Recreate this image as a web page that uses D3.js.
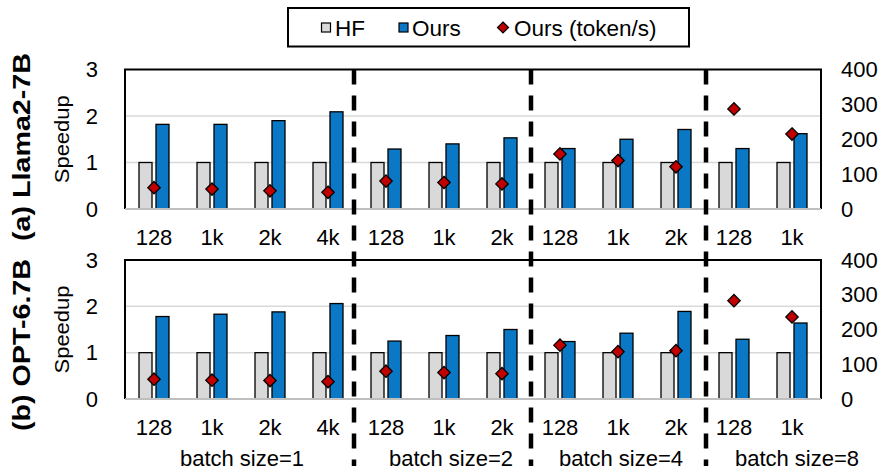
<!DOCTYPE html>
<html>
<head>
<meta charset="utf-8">
<script src="https://cdn.jsdelivr.net/npm/d3@7"></script>
<style>
  html, body { margin: 0; padding: 0; background: #fff; }
  svg { display: block; font-family: Arial, "Liberation Sans", sans-serif; }
</style>
</head>
<body>
<svg id="chart" width="883" height="472"></svg>
<script>
// ---------------- data ----------------
const categories = ['128','1k','2k','4k','128','1k','2k','128','1k','2k','128','1k'];
const batchLabels = ['batch size=1','batch size=2','batch size=4','batch size=8'];
const batchCounts = [4, 3, 3, 2];
const seriesNames = ['HF', 'Ours', 'Ours (token/s)'];
const hfSpeedup = [1,1,1,1,1,1,1,1,1,1,1,1];
const llamaOurs = [1.82,1.82,1.90,2.09,1.29,1.40,1.53,1.30,1.50,1.71,1.30,1.62];
const llamaTokens = [61,57,52,48,80,76,72,158,139,121,287,215];
const optOurs = [1.78,1.83,1.88,2.06,1.25,1.37,1.50,1.24,1.42,1.89,1.29,1.64];
const optTokens = [57,54,53,50,80,76,73,155,136,139,283,236];
const panelTitles = ['(a) Llama2-7B', '(b) OPT-6.7B'];
const leftTicks = [0,1,2,3];
const rightTicks = [0,100,200,300,400];

// ---------------- styles ----------------
const C_HF = '#d9d9d9', C_OURS = '#0a78c4', C_TOK = '#c00000';
const FONT = 22;
const labelNudge = [1, 7, 3, 34];     // batch label horizontal nudges (px)
const sepNudge = [-3, 0, 1];          // separator nudges (px)

const svg = d3.select('#chart');
const L = 125, R = 821;
const panels = [
  { top: 69.5, bottom: 209, ours: llamaOurs, tok: llamaTokens, title: panelTitles[0], tlen: 188 },
  { top: 260, bottom: 399, ours: optOurs, tok: optTokens, title: panelTitles[1], tlen: 172 }
];

const x = d3.scaleBand().domain(d3.range(categories.length)).range([L, R]);
const xSub = d3.scaleBand().domain(['HF','Ours']).range([-15, 15]).paddingInner(0.235);
const cx = i => x(i) + x.bandwidth() / 2;
const diamond = s => `M0,${-s}L${s},0L0,${s}L${-s},0Z`;

panels.forEach((p, pi) => {
  const y = d3.scaleLinear().domain([0, 3]).range([p.bottom, p.top]);
  const y2 = d3.scaleLinear().domain([0, 400]).range([p.bottom, p.top]);
  const g = svg.append('g');

  // gridlines
  g.selectAll('line.grid').data([1, 2]).join('line')
    .attr('x1', L).attr('x2', R).attr('y1', d => y(d)).attr('y2', d => y(d))
    .attr('stroke', '#d9d9d9').attr('stroke-width', 1.5);

  // HF bars
  g.selectAll('rect.hf').data(hfSpeedup).join('rect')
    .attr('x', (d, i) => cx(i) + xSub('HF')).attr('width', xSub.bandwidth())
    .attr('y', d => y(d)).attr('height', d => y(0) - y(d))
    .attr('fill', C_HF).attr('stroke', '#000').attr('stroke-width', 1.3);
  // Ours bars
  g.selectAll('rect.ours').data(p.ours).join('rect')
    .attr('x', (d, i) => cx(i) + xSub('Ours')).attr('width', xSub.bandwidth())
    .attr('y', d => y(d)).attr('height', d => y(0) - y(d))
    .attr('fill', C_OURS).attr('stroke', '#000').attr('stroke-width', 1.3);

  // plot border: left/top/right black, bottom gray axis
  g.append('path').attr('d', `M${L},${p.bottom}V${p.top}H${R}V${p.bottom}`)
    .attr('fill', 'none').attr('stroke', '#000').attr('stroke-width', 2);
  g.append('line').attr('x1', L).attr('x2', R).attr('y1', p.bottom).attr('y2', p.bottom)
    .attr('stroke', '#bfbfbf').attr('stroke-width', 2);

  // token/s diamonds
  g.selectAll('path.tok').data(p.tok).join('path')
    .attr('transform', (d, i) => `translate(${cx(i)},${y2(d)})`)
    .attr('d', diamond(6.2))
    .attr('fill', C_TOK).attr('stroke', '#000').attr('stroke-width', 1.3);

  // axes
  const ax = g.append('g').attr('transform', `translate(${L},0)`)
    .call(d3.axisLeft(y).tickValues(leftTicks).tickSize(0).tickPadding(27).tickFormat(d3.format('d')));
  const axR = g.append('g').attr('transform', `translate(${R},0)`)
    .call(d3.axisRight(y2).tickValues(rightTicks).tickSize(0).tickPadding(20).tickFormat(d3.format('d')));
  const axB = g.append('g').attr('transform', `translate(0,${p.bottom})`)
    .call(d3.axisBottom(x).tickSize(0).tickPadding(20).tickFormat(i => categories[i]));
  [ax, axR, axB].forEach(a => {
    a.select('.domain').remove();
    a.selectAll('text').attr('font-size', FONT).attr('fill', '#000')
      .attr('font-family', 'Arial, "Liberation Sans", sans-serif');
  });

  // Speedup label
  const my = (p.top + p.bottom) / 2;
  g.append('text').attr('transform', `translate(69,${my}) rotate(-90)`)
    .attr('text-anchor', 'middle').attr('font-size', 20)
    .attr('textLength', 88).attr('lengthAdjust', 'spacingAndGlyphs')
    .text('Speedup');

  // panel title
  g.append('text').attr('transform', `translate(30,${p.bottom + 32}) rotate(-90)`)
    .attr('text-anchor', 'start').attr('font-size', 24).attr('font-weight', 'bold')
    .attr('textLength', p.tlen).attr('lengthAdjust', 'spacingAndGlyphs')
    .text(p.title);
});

// batch labels and dashed separators
let start = 0;
batchCounts.forEach((n, bi) => {
  const c0 = cx(start), c1 = cx(start + n - 1);
  svg.append('text').attr('x', (c0 + c1) / 2 + labelNudge[bi]).attr('y', 466)
    .attr('text-anchor', 'middle').attr('font-size', FONT).text(batchLabels[bi]);
  if (bi < batchCounts.length - 1) {
    const sx = x(start + n) + sepNudge[bi];
    svg.append('line').attr('x1', sx).attr('x2', sx)
      .attr('y1', panels[0].top).attr('y2', 466)
      .attr('stroke', '#000').attr('stroke-width', 4.5).attr('stroke-dasharray', '15,11');
  }
  start += n;
});

// legend
const lg = svg.append('g');
lg.append('rect').attr('x', 288).attr('y', 8).attr('width', 401).attr('height', 38.5)
  .attr('fill', '#fff').attr('stroke', '#000').attr('stroke-width', 2);
const legItems = [
  { name: seriesNames[0], type: 'sq', color: C_HF, mx: 326, tx: 335 },
  { name: seriesNames[1], type: 'sq', color: C_OURS, mx: 403.5, tx: 412 },
  { name: seriesNames[2], type: 'dia', color: C_TOK, mx: 503, tx: 514 }
];
legItems.forEach(it => {
  if (it.type === 'sq') {
    lg.append('rect').attr('x', it.mx - 4.5).attr('y', 23).attr('width', 9).attr('height', 9)
      .attr('fill', it.color).attr('stroke', '#000').attr('stroke-width', 1.2);
  } else {
    lg.append('path').attr('transform', `translate(${it.mx},27.5)`).attr('d', diamond(5.5))
      .attr('fill', it.color).attr('stroke', '#000').attr('stroke-width', 1.2);
  }
  lg.append('text').attr('x', it.tx).attr('y', 35.5).attr('font-size', 22.5).text(it.name);
});
</script>
</body>
</html>
